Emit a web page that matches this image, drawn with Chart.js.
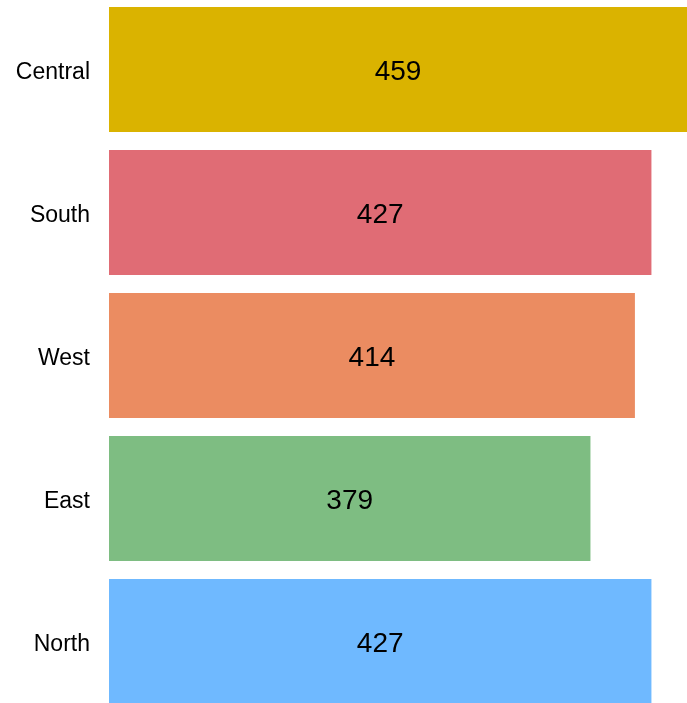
<!DOCTYPE html>
<html>
<head>
<meta charset="utf-8">
<script src="https://cdn.jsdelivr.net/npm/chart.js@4/dist/chart.umd.min.js"></script>
<style>
  html, body { margin: 0; padding: 0; overflow: hidden; background: #fff; }
  #wrap { position: absolute; left: 0; top: -2px; width: 687px; height: 715px; }
</style>
</head>
<body>
<div id="wrap"><canvas id="myChart"></canvas></div>
<script>
'use strict';

let regions = ['Central', 'South', 'West', 'East', 'North'];
let sales = [459, 427, 414, 379, 427];
let barColors = ['#dab300', '#e06c75', '#eb8c61', '#7ebd82', '#6fb9ff'];

// draws the number in the middle of the visible part of each bar
let valueLabels = {
  id: 'valueLabels',
  afterDatasetsDraw(chart) {
    let ctx = chart.ctx;
    let meta = chart.getDatasetMeta(0);
    ctx.save();
    ctx.font = '28px "Liberation Sans", Arial, sans-serif';
    ctx.fillStyle = '#000';
    ctx.textAlign = 'center';
    ctx.textBaseline = 'middle';
    meta.data.forEach(function (bar, i) {
      let right = Math.min(bar.x, chart.width);
      let x = (bar.base + right) / 2;
      ctx.fillText(String(sales[i]), x, bar.y + 3);
    });
    ctx.restore();
  }
};

const myChart = new Chart(document.getElementById('myChart'), {
  type: 'bar',
  data: {
    labels: regions,
    datasets: [{
      data: sales,
      backgroundColor: barColors,
      borderWidth: 0,
      categoryPercentage: 1,
      barPercentage: 0.874
    }]
  },
  options: {
    indexAxis: 'y',
    responsive: true,
    maintainAspectRatio: false,
    animation: false,
    layout: { padding: 0 },
    plugins: {
      legend: { display: false },
      tooltip: { enabled: false }
    },
    scales: {
      x: {
        display: false,
        min: 0,
        max: 455
      },
      y: {
        grid: { display: false, drawTicks: false },
        border: { display: false },
        ticks: {
          color: '#000',
          padding: 19,
          labelOffset: 3,
          font: { family: '"Liberation Sans", Arial, sans-serif', size: 23 }
        },
        afterFit(scale) {
          scale.width = 109;
          scale.paddingTop = 0;
          scale.paddingBottom = 0;
        }
      }
    }
  },
  plugins: [valueLabels]
});
</script>
</body>
</html>
